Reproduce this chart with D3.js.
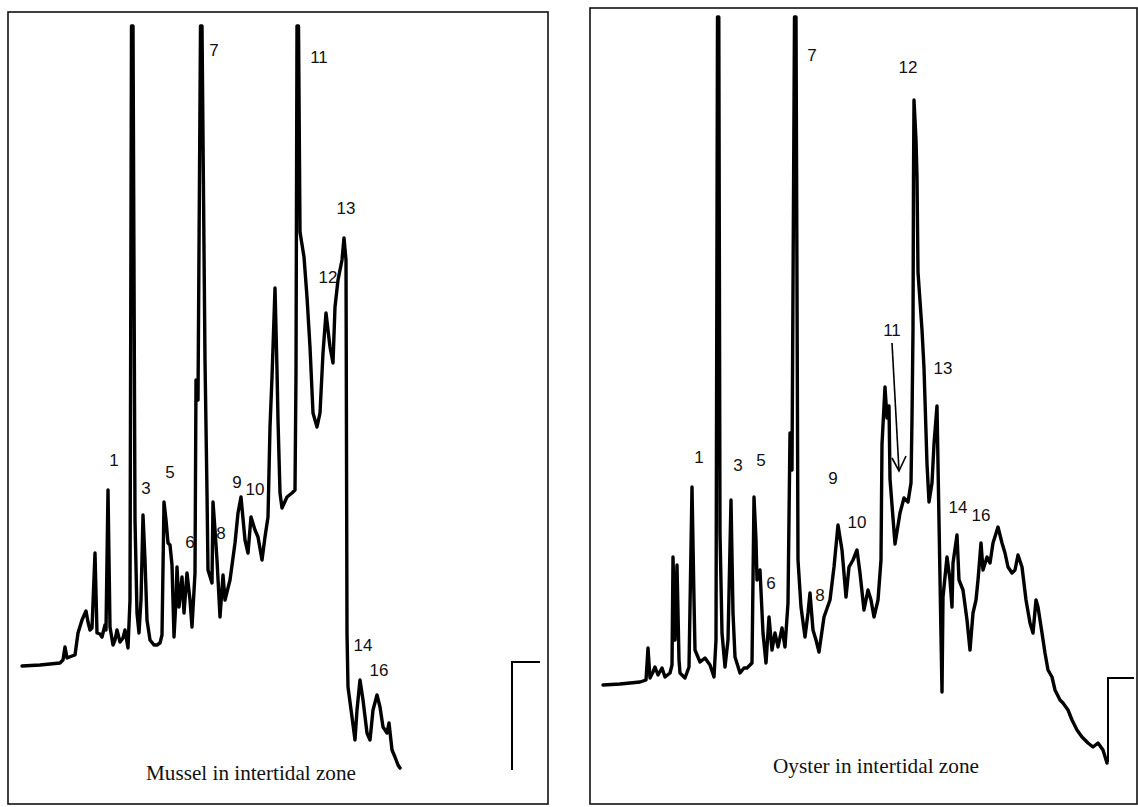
<!DOCTYPE html>
<html>
<head>
<meta charset="utf-8">
<script src="https://cdn.jsdelivr.net/npm/d3@7"></script>
<style>
  html, body { margin: 0; padding: 0; background: #ffffff; }
  svg { display: block; }
</style>
</head>
<body>
<svg id="chart" width="1138" height="807"></svg>
<script>
// ---------- DATA (retention time in min, detector signal in arbitrary units) ----------
const musselTime = [1.4,3.2,5.2,5.5,5.7,5.9,6.4,6.7,7.0,7.4,7.8,8.0,8.2,8.4,8.7,8.9,9.2,9.4,9.7,9.8,
  10.0,10.2,10.5,10.7,10.9,11.2,11.5,11.7,12.0,12.2,12.35,12.5,12.7,12.9,13.1,13.3,13.5,13.7,13.9,14.2,
  14.6,14.9,15.2,15.4,15.6,15.8,16.0,16.2,16.4,16.6,16.8,16.9,17.1,17.4,17.6,17.9,18.2,18.4,18.7,18.8,
  19.0,19.25,19.4,19.7,19.9,20.0,20.4,20.5,20.7,20.9,21.2,21.5,21.7,22.2,22.7,23.0,23.3,23.7,24.0,24.3,
  24.7,25.0,25.4,25.7,26.0,26.2,26.4,26.7,26.9,27.0,27.2,27.4,27.9,28.4,28.7,28.8,28.9,29.05,29.2,29.6,
  29.9,30.2,30.5,30.9,31.2,31.5,31.8,32.2,32.5,32.7,33.0,33.4,33.6,33.8,33.9,34.0,34.4,34.7,34.9,35.2,
  35.5,35.9,36.2,36.5,36.9,37.2,37.5,37.9,38.1,38.4,38.7,39.0,39.2];
const musselSignal = [3.9,4.0,4.2,4.5,5.8,4.7,4.9,5.0,7.2,8.5,9.4,8.3,7.5,7.7,15.2,7.2,7.1,6.8,8.0,7.5,
  21.5,7.8,6.0,6.5,7.5,6.3,6.7,7.5,5.7,10.5,67.9,67.9,18.5,9.2,7.2,10.5,19.0,14.5,8.5,6.5,
  6.0,6.0,6.2,7.0,20.3,18.5,16.2,16.0,14.0,6.8,10.5,13.8,9.8,12.8,9.2,13.2,10.5,7.8,13.2,32.5,
  30.5,67.9,67.9,34.5,21.2,13.5,12.2,20.3,17.5,14.5,8.8,13.0,10.5,12.5,16.2,19.2,20.8,16.5,15.2,18.8,
  17.5,16.8,14.5,16.8,18.8,27.8,32.8,41.7,33.5,28.5,21.2,19.7,20.8,21.2,21.5,33.2,67.9,67.9,47.3,44.8,
  40.8,35.8,29.2,27.8,29.2,35.2,39.2,35.8,34.2,39.8,42.5,44.5,46.7,44.5,7.2,1.8,-1.2,-3.5,-0.5,2.5,
  0.5,-2.8,-3.5,-0.5,1.0,-0.2,-2.2,-2.8,-1.8,-4.5,-5.2,-6.0,-6.3];

const oysterTime = [1.3,3.0,5.0,5.6,5.8,6.0,6.3,6.5,6.8,7.2,7.5,8.0,8.2,8.3,8.5,8.7,8.9,9.0,9.5,9.9,
  10.2,10.4,10.5,11.0,11.5,12.0,12.4,12.6,12.75,12.88,13.0,13.2,13.5,13.8,14.1,14.3,14.5,15.0,15.4,15.7,
  16.2,16.4,16.6,16.7,17.0,17.3,17.6,17.9,18.2,18.5,18.8,19.2,19.5,19.8,20.0,20.2,20.45,20.6,20.8,21.1,
  21.5,21.8,22.0,22.3,22.6,22.9,23.4,24.0,24.4,24.8,25.2,25.6,25.9,26.3,26.7,27.0,27.4,27.8,28.1,28.4,
  28.8,29.1,29.2,29.5,29.7,29.9,30.0,30.5,31.0,31.4,31.8,32.1,32.2,32.3,32.35,32.4,32.6,32.7,32.8,33.2,
  33.4,33.7,33.9,34.2,34.4,34.7,34.9,35.1,35.2,35.3,35.7,36.0,36.2,36.3,36.7,36.9,37.3,37.7,38.0,38.3,
  38.6,38.8,39.1,39.3,39.7,40.0,40.3,40.8,41.2,41.5,41.8,42.2,42.5,42.8,43.2,43.6,44.0,44.3,44.6,44.8,
  45.2,45.5,45.8,46.2,46.5,47.0,47.3,47.8,48.2,48.7,49.2,49.8,50.3,50.8,51.3,51.7];
const oysterSignal = [2.0,2.1,2.3,2.5,5.7,2.7,3.3,3.8,3.0,3.7,2.8,3.2,4.0,14.8,6.5,14.0,4.5,3.2,2.7,3.8,
  21.8,10.5,5.5,4.3,4.7,4.0,2.8,6.5,68.8,68.8,17.2,7.2,3.8,6.5,20.5,9.2,4.8,3.2,3.7,3.7,
  4.2,20.8,16.5,12.5,13.5,7.2,4.2,8.8,5.5,7.2,5.8,7.7,5.8,10.2,27.2,23.5,68.8,68.8,14.5,9.8,
  6.8,9.2,11.2,7.5,6.5,5.3,8.8,10.5,13.8,18.0,15.5,10.8,13.8,14.5,15.5,13.2,9.5,11.5,10.5,8.8,
  10.5,14.5,26.1,31.8,28.7,29.9,22.6,16.1,19.2,20.7,20.3,22.2,28.7,37.5,52.8,60.5,56.5,52.8,43.3,37.5,
  33.7,24.1,20.3,22.2,26.1,29.9,18.4,6.9,1.3,10.8,14.8,12.5,9.8,14.2,17.0,12.5,11.5,8.5,5.5,9.2,
  10.5,12.5,16.2,13.5,14.8,14.2,16.2,17.8,16.2,15.2,13.8,13.2,13.5,15.0,13.8,10.5,8.2,7.2,10.5,9.8,
  7.2,5.2,3.5,2.8,1.5,0.5,0.2,-0.5,-1.5,-2.5,-3.2,-3.8,-4.2,-3.8,-4.5,-5.8];

// Peak numbers and where they are written (time, signal)
const musselPeakLabels = ["1","3","5","6","7","8","9","10","11","12","13","14","16"];
const musselLabelTime  = [10.6,13.8,16.2,18.2,20.6,21.3,22.9,24.7,31.1,32.0,33.8,35.5,37.1];
const musselLabelSig   = [24.5,21.7,23.3,16.3,65.5,17.2,22.3,21.6,64.8,42.8,49.7,6.0,3.5];

const oysterPeakLabels = ["1","3","5","6","7","8","9","10","11","12","13","14","16"];
const oysterLabelTime  = [10.9,14.8,17.1,18.1,22.2,23.0,24.3,26.7,30.2,31.8,35.3,36.8,39.1];
const oysterLabelSig   = [24.8,24.0,24.5,12.2,65.0,11.0,22.7,18.3,37.5,63.8,33.7,19.8,19.0];

// Arrow pointing to peak 11 in the oyster trace
const oysterArrowTime = [30.2,30.9];
const oysterArrowSig  = [36.2,23.4];

// Signal scale bars (time, signal)
const musselBarTime = [50.4,50.4,53.2];
const musselBarSig  = [-6.5,4.3,4.3];
const oysterBarTime = [51.8,51.8,54.4];
const oysterBarSig  = [-5.7,2.7,2.7];

const panelTitles = ["Mussel in intertidal zone","Oyster in intertidal zone"];

// ---------- DRAWING ----------
const svg = d3.select("#chart");
const y = d3.scaleLinear().domain([-10, 70]).range([805, 5]);

const panels = [
  { x: d3.scaleLinear().domain([0, 54]).range([8, 548]),
    frame: [8, 12, 548, 804],
    t: musselTime, s: musselSignal,
    lt: musselPeakLabels, lx: musselLabelTime, ly: musselLabelSig,
    bt: musselBarTime, bs: musselBarSig,
    title: panelTitles[0], titleT: 24.3, titleS: -6.8, titleW: 210 },
  { x: d3.scaleLinear().domain([0, 54.7]).range([590, 1137]),
    frame: [590, 8, 1137, 804],
    t: oysterTime, s: oysterSignal,
    lt: oysterPeakLabels, lx: oysterLabelTime, ly: oysterLabelSig,
    bt: oysterBarTime, bs: oysterBarSig,
    title: panelTitles[1], titleT: 28.6, titleS: -6.1, titleW: 206 }
];

panels.forEach((p, i) => {
  const g = svg.append("g");
  const [x0, y0, x1, y1] = p.frame;
  g.append("rect")
    .attr("x", x0).attr("y", y0)
    .attr("width", x1 - x0).attr("height", y1 - y0)
    .attr("fill", "none").attr("stroke", "#111").attr("stroke-width", 1.6);

  const pts = p.t.map((t, k) => [t, p.s[k]]);
  const line = d3.line().x(d => p.x(d[0])).y(d => y(d[1]));
  g.append("path").datum(pts)
    .attr("d", line)
    .attr("fill", "none").attr("stroke", "#000")
    .attr("stroke-width", 3.4)
    .attr("stroke-linejoin", "round").attr("stroke-linecap", "round");

  const bar = p.bt.map((t, k) => [t, p.bs[k]]);
  g.append("path").datum(bar)
    .attr("d", line)
    .attr("fill", "none").attr("stroke", "#000").attr("stroke-width", 2);

  g.selectAll("text.peak").data(p.lt).enter().append("text")
    .attr("class", "peak")
    .attr("x", (d, k) => p.x(p.lx[k]))
    .attr("y", (d, k) => y(p.ly[k]))
    .attr("text-anchor", "middle")
    .attr("dominant-baseline", "central")
    .attr("font-family", "Liberation Sans, Arial, sans-serif")
    .attr("font-size", 17)
    .attr("fill", "#111")
    .text(d => d);

  const title = g.append("text")
    .attr("x", p.x(p.titleT))
    .attr("y", y(p.titleS))
    .attr("text-anchor", "middle")
    .attr("dominant-baseline", "central")
    .attr("font-family", "Liberation Serif, Times New Roman, serif")
    .attr("font-size", 18)
    .attr("fill", "#111")
    .text(p.title);
  const w = title.node().getComputedTextLength();
  if (w > 0) title.attr("font-size", 18 * p.titleW / w);

  if (i === 1) {
    const arrowLine = oysterArrowTime.map((t, k) => [t, oysterArrowSig[k]]);
    g.append("path").datum(arrowLine)
      .attr("d", line).attr("fill", "none").attr("stroke", "#000").attr("stroke-width", 1.6);
    const tip = arrowLine[1];
    const head = [[tip[0] - 0.7, tip[1] + 1.3], tip, [tip[0] + 0.7, tip[1] + 1.5]];
    g.append("path").datum(head)
      .attr("d", line).attr("fill", "none").attr("stroke", "#000").attr("stroke-width", 1.6);
  }
});
</script>
</body>
</html>
